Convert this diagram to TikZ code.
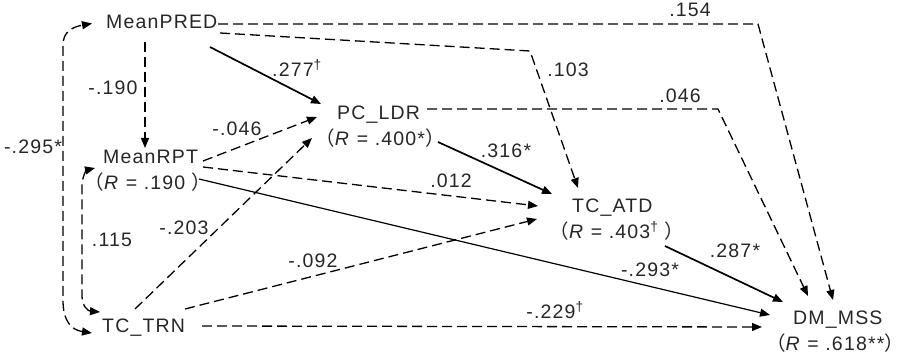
\documentclass[tikz,border=0pt]{standalone}
\usepackage{fontspec}
\setmainfont{Liberation Sans}[LetterSpace=6]
\newfontfamily\cjkfont{Noto Sans CJK SC}
\usetikzlibrary{arrows.meta}
\newcommand\myLP{{\cjkfont （}}
\newcommand\myRP{{\cjkfont ）}}
\newcommand\myEq{ = }
\begin{document}
\begin{tikzpicture}[x=1pt,y=-1pt,
  every node/.style={font=\fontsize{19.5}{22}\selectfont, inner sep=0pt, text=black!85},
  var/.style={anchor=base west},
  rval/.style={anchor=base},
  lab/.style={anchor=base},
  tip/.style={-{Triangle[length=10pt,width=8pt]}},
  dsh/.style={dash pattern=on 10pt off 5pt, line width=1.3pt, tip},
  dshb/.style={dash pattern=on 10pt off 5pt, line width=1.3pt, {Triangle[length=10pt,width=8pt]}-{Triangle[length=10pt,width=8pt]}},
  sol/.style={line width=1.7pt, tip},
  solthin/.style={line width=1.2pt, tip}
]
\useasboundingbox (0,0) rectangle (903,358);

% variables
\node[var] (pred) at (106,28.5) {MeanPRED};
\node[var] (rpt) at (103,164) {MeanRPT};
\node[rval] (rptR) at (148,190) {\myLP\textit{R}\myEq.190 \myRP};
\node[var] (ldr) at (337,120) {PC\_LDR};
\node[rval] (ldrR) at (380,146) {\myLP\textit{R}\myEq.400*\myRP};
\node[var] (atd) at (572,213) {TC\_ATD};
\node[rval] (atdR) at (617,239) {\myLP\textit{R}\myEq.403\textsuperscript{†} \myRP};
\node[var] (mss) at (793,324) {DM\_MSS};
\node[rval] (mssR) at (835,350) {\myLP\textit{R}\myEq.618**\myRP};
\node[var] (trn) at (102,332) {TC\_TRN};

% bend points
\coordinate (c154) at (758,24);
\coordinate (c103) at (530,51);
\coordinate (c046) at (718,109);

% connectors
\draw[dsh] ([shift={(112,-4.5)}]pred.base west) -- (c154) -- ([shift={(40,-24)}]mss.base west);
\draw[dsh] ([shift={(114,4.5)}]pred.base west) -- (c103) -- ([shift={(6,-25)}]atd.base west);
\draw[sol] ([shift={(104,18.5)}]pred.base west) -- ([shift={(-16,-16)}]ldr.base west);
\draw[dsh] ([shift={(39,13.5)}]pred.base west) -- ([shift={(42,-16)}]rpt.base west);
\draw[dshb] ([shift={(-10,1)}]trn.base west) .. controls (72,330) and (63,322) .. (63,300) -- (63,45) .. controls (63,32) and (72,27) .. ([shift={(-14,-5)}]pred.base west);
\draw[dshb] ([shift={(-2,-20)}]trn.base west) .. controls (88,311) and (82,306) .. (82,296) -- (82,186) .. controls (82,176) and (87,170) .. ([shift={(-8,4)}]rpt.base west);
\draw[dsh] ([shift={(100,-3)}]rpt.base west) -- ([shift={(-20,-3)}]ldr.base west);
\draw[dsh] ([shift={(33,-23)}]trn.base west) -- ([shift={(-25,18)}]ldr.base west);
\draw[dsh] ([shift={(100,3)}]rpt.base west) -- ([shift={(-34,-7)}]atd.base west);
\draw[solthin] ([shift={(51,-11)}]rptR.base) -- ([shift={(-23,-9)}]mss.base west);
\draw[dsh] ([shift={(83,-23)}]trn.base west) -- ([shift={(-35,6)}]atd.base west);
\draw[dsh] ([shift={(100,-6)}]trn.base west) -- ([shift={(-31,3)}]mss.base west);
\draw[sol] ([shift={(58,-4)}]ldrR.base) -- ([shift={(-20,-19)}]atd.base west);
\draw[dsh] ([shift={(90,-11)}]ldr.base west) -- (c046) -- ([shift={(15,-28)}]mss.base west);
\draw[sol] ([shift={(48,7)}]atdR.base) -- ([shift={(-10,-22)}]mss.base west);

% labels
\node[lab] (l154) at (690,17) {.154};
\node[lab] (l103) at (568,77) {.103};
\node[lab] (l277) at (297,77) {.277\textsuperscript{†}};
\node[lab] (l190) at (113,95) {-.190};
\node[lab] (l295) at (33,154) {-.295*};
\node[lab] (l115) at (112,247) {.115};
\node[lab] (l046a) at (237,136) {-.046};
\node[lab] (l203) at (184,235) {-.203};
\node[lab] (l012) at (451,188) {.012};
\node[lab] (l293) at (650,277) {-.293*};
\node[lab] (l092) at (313,268) {-.092};
\node[lab] (l229) at (555,319) {-.229\textsuperscript{†}};
\node[lab] (l316) at (506,158) {.316*};
\node[lab] (l046b) at (680,103) {.046};
\node[lab] (l287) at (735,258) {.287*};
\end{tikzpicture}
\end{document}
